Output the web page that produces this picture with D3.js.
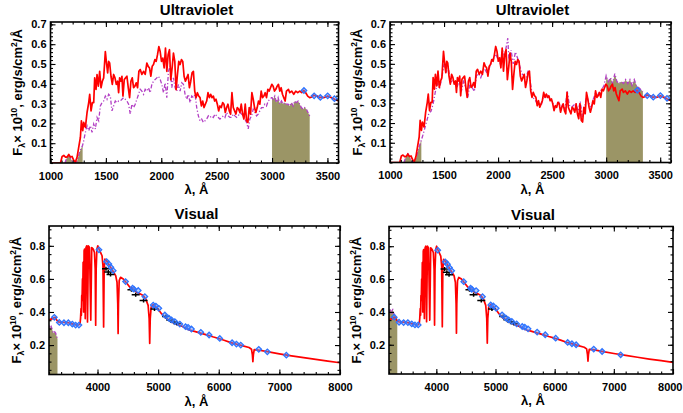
<!DOCTYPE html>
<html><head><meta charset="utf-8">
<script src="https://cdn.jsdelivr.net/npm/d3@7"></script>
<style>
body{margin:0;background:#fff;}
svg{display:block;font-family:"Liberation Sans",Arial,Helvetica,sans-serif;font-weight:bold;}
</style></head><body>
<svg id="c" width="683" height="413"></svg>
<script>
// ---------- DATA ----------
// Observed UV spectrum (red)
const uvWave = [1000,1090,1105,1120,1135,1150,1165,1180,1195,1210,1225,1240,1255,1270,1279,1291,1300,1315,1330,1345,1354,1366,1378,1390,1399,1411,1420,1432,1444,1456,1468,1480,1495,1504,1516,1525,1534,1546,1558,1570,1582,1594,1606,1615,1624,1636,1645,1654,1666,1678,1690,1702,1714,1726,1738,1750,1762,1774,1786,1798,1810,1825,1840,1855,1870,1882,1894,1906,1918,1930,1942,1954,1966,1978,1990,2002,2014,2026,2038,2050,2062,2074,2086,2098,2110,2122,2134,2146,2158,2170,2182,2194,2206,2218,2230,2242,2254,2266,2278,2290,2302,2314,2326,2338,2350,2362,2374,2386,2398,2410,2422,2434,2446,2458,2470,2482,2494,2506,2518,2530,2542,2554,2566,2578,2590,2602,2614,2626,2638,2650,2662,2674,2686,2698,2710,2722,2734,2746,2758,2770,2782,2794,2806,2818,2830,2842,2854,2866,2878,2890,2902,2914,2926,2938,2950,2962,2974,2986,2998,3010,3022,3034,3046,3058,3070,3082,3094,3106,3118,3130,3148,3160,3178,3196,3214,3232,3250,3268,3286,3304,3322,3340,3358,3376,3394,3412,3430,3448,3466,3484,3502,3520,3538,3556,3574,3600];
const uvFlux = [0,0,0.033,0.038,0.030,0.030,0.043,0.030,0.033,0.013,0.005,0.030,0.080,0.130,0.213,0.163,0.205,0.180,0.255,0.305,0.347,0.263,0.305,0.305,0.430,0.372,0.447,0.388,0.463,0.380,0.413,0.430,0.563,0.513,0.455,0.513,0.505,0.438,0.397,0.447,0.430,0.397,0.413,0.355,0.430,0.413,0.438,0.338,0.422,0.430,0.438,0.380,0.330,0.413,0.430,0.380,0.388,0.405,0.380,0.463,0.472,0.447,0.463,0.447,0.505,0.488,0.480,0.438,0.488,0.497,0.522,0.513,0.547,0.588,0.563,0.513,0.530,0.480,0.580,0.463,0.547,0.572,0.420,0.480,0.555,0.513,0.370,0.447,0.513,0.497,0.522,0.513,0.438,0.413,0.430,0.447,0.380,0.413,0.455,0.463,0.363,0.330,0.355,0.338,0.330,0.288,0.313,0.280,0.297,0.313,0.355,0.330,0.347,0.330,0.338,0.313,0.322,0.297,0.263,0.288,0.280,0.305,0.297,0.255,0.280,0.297,0.263,0.247,0.355,0.280,0.263,0.247,0.280,0.272,0.255,0.297,0.247,0.222,0.297,0.213,0.205,0.280,0.247,0.355,0.322,0.280,0.255,0.280,0.313,0.297,0.363,0.330,0.338,0.355,0.330,0.372,0.363,0.380,0.397,0.388,0.363,0.372,0.388,0.397,0.363,0.380,0.347,0.330,0.313,0.363,0.372,0.355,0.363,0.347,0.363,0.355,0.363,0.355,0.367,0.355,0.338,0.330,0.333,0.343,0.338,0.338,0.330,0.333,0.330,0.333,0.338,0.333,0.330,0.325,0.318,0.315];

// Model A (left column, purple dash-dot)
const modelAWave = [1130,1150,1165,1180,1195,1210,1240,1255,1270,1290,1300,1315,1330,1345,1360,1375,1390,1405,1420,1435,1450,1465,1480,1495,1510,1525,1540,1555,1570,1585,1600,1615,1630,1645,1660,1675,1690,1705,1720,1735,1750,1765,1780,1795,1810,1825,1840,1855,1870,1885,1900,1915,1930,1945,1960,1975,1990,2005,2020,2035,2050,2065,2080,2095,2110,2125,2140,2155,2170,2185,2200,2215,2230,2245,2260,2275,2290,2305,2320,2335,2350,2365,2380,2395,2410,2425,2440,2455,2470,2485,2500,2515,2530,2545,2560,2575,2590,2605,2620,2635,2650,2665,2680,2695,2710,2725,2740,2755,2770,2785,2800,2815,2830,2845,2860,2875,2890,2905,2920,2935,2950,2965,2980,2995,3000,3010,3025,3040,3055,3070,3085,3100,3115,3130,3145,3160,3175,3190,3205,3220,3235,3250,3265,3280,3295,3310,3325,3340];
const modelAFlux = [0,0.030,0.040,0.025,0.010,0,0.010,0.040,0.065,0.090,0.113,0.155,0.188,0.163,0.188,0.155,0.197,0.172,0.230,0.213,0.288,0.305,0.313,0.338,0.322,0.347,0.338,0.263,0.288,0.313,0.305,0.313,0.313,0.322,0.330,0.322,0.313,0.297,0.247,0.297,0.280,0.297,0.322,0.347,0.372,0.363,0.347,0.372,0.363,0.380,0.355,0.397,0.413,0.422,0.430,0.438,0.422,0.397,0.355,0.405,0.330,0.463,0.490,0.380,0.430,0.380,0.363,0.397,0.363,0.405,0.397,0.347,0.322,0.347,0.305,0.338,0.330,0.347,0.280,0.238,0.213,0.222,0.205,0.213,0.222,0.238,0.230,0.238,0.230,0.247,0.238,0.230,0.222,0.230,0.238,0.230,0.255,0.238,0.230,0.230,0.247,0.238,0.230,0.238,0.255,0.247,0.238,0.222,0.205,0.172,0.222,0.238,0.272,0.255,0.238,0.247,0.263,0.280,0.280,0.297,0.288,0.313,0.322,0.330,0.330,0.322,0.338,0.305,0.330,0.297,0.313,0.297,0.305,0.297,0.297,0.288,0.305,0.288,0.313,0.305,0.313,0.297,0.280,0.272,0.280,0.272,0.255,0.238];

// Model B (right column, purple dash-dot)
const modelBWave = [1130,1150,1165,1180,1195,1210,1240,1255,1270,1290,1300,1320,1340,1360,1380,1400,1420,1440,1460,1480,1500,1520,1540,1560,1580,1600,1620,1640,1660,1680,1700,1720,1740,1760,1780,1800,1820,1840,1860,1880,1900,1920,1940,1960,1980,2000,2020,2040,2060,2080,2090,2100,2120,2140,2160,2180,2200,2220,2240,2260,2280,2300,2320,2340,2360,2380,2400,2420,2440,2460,2480,2500,2520,2540,2560,2580,2600,2620,2640,2660,2680,2700,2720,2740,2760,2780,2800,2820,2840,2860,2880,2900,2920,2940,2960,2980,3000,3020,3040,3060,3080,3100,3120,3140,3160,3180,3200,3220,3240,3260,3280,3300,3320,3340];
const modelBFlux = [0,0.035,0.045,0.030,0.010,0,0.020,0.050,0.080,0.115,0.130,0.170,0.210,0.250,0.260,0.300,0.360,0.400,0.380,0.430,0.500,0.460,0.480,0.400,0.420,0.400,0.380,0.420,0.360,0.410,0.380,0.330,0.400,0.380,0.360,0.440,0.450,0.430,0.460,0.470,0.450,0.480,0.510,0.530,0.550,0.520,0.500,0.570,0.540,0.600,0.630,0.520,0.570,0.500,0.560,0.530,0.490,0.450,0.440,0.430,0.470,0.400,0.330,0.320,0.300,0.300,0.290,0.340,0.330,0.340,0.320,0.310,0.280,0.290,0.310,0.270,0.300,0.270,0.360,0.290,0.280,0.290,0.300,0.260,0.310,0.230,0.280,0.340,0.300,0.280,0.320,0.350,0.340,0.360,0.370,0.390,0.440,0.410,0.430,0.400,0.450,0.410,0.400,0.410,0.400,0.420,0.400,0.420,0.390,0.420,0.390,0.380,0.370,0.360];

// Model ranges shown as filled areas
const fillWindows = [[1130,1290],[3000,3340]];

// UV photometric points (blue diamonds)
const uvPtsWave = [3288,3380,3436,3502,3563];
const uvPtsFlux = [0.366,0.339,0.331,0.339,0.325];

// Visual model spectrum (red)
const visWave = [3200,3216,3260,3299,3330,3354,3400,3436,3480,3519,3560,3601,3650,3684,3700,3712,3720,3728,3734,3740,3745,3752,3757,3763,3771,3779,3786,3798,3810,3822,3835,3850,3868,3889,3905,3930,3950,3962,3970,3978,3990,4005,4025,4050,4075,4090,4101,4110,4122,4150,4200,4250,4300,4322,4334,4340,4346,4358,4380,4425,4480,4534,4589,4644,4700,4754,4800,4835,4852,4861,4870,4885,4920,4946,5001,5056,5111,5166,5221,5303,5386,5468,5523,5600,5700,5800,5900,6000,6100,6200,6300,6400,6500,6540,6555,6563,6571,6585,6650,6800,7000,7200,7400,7600,7800,8000];
const visFlux = [0.350,0.355,0.360,0.368,0.350,0.340,0.338,0.338,0.336,0.335,0.330,0.327,0.322,0.320,0.325,0.330,0.360,0.420,0.380,0.500,0.470,0.600,0.520,0.700,0.400,0.770,0.780,0.360,0.790,0.800,0.340,0.800,0.790,0.350,0.790,0.780,0.760,0.660,0.320,0.660,0.780,0.800,0.780,0.760,0.740,0.680,0.310,0.660,0.720,0.710,0.680,0.650,0.620,0.580,0.450,0.270,0.450,0.590,0.610,0.600,0.575,0.550,0.540,0.520,0.510,0.500,0.475,0.440,0.360,0.210,0.360,0.430,0.445,0.437,0.417,0.390,0.368,0.355,0.340,0.327,0.315,0.300,0.290,0.283,0.272,0.262,0.250,0.240,0.228,0.215,0.205,0.195,0.185,0.175,0.140,0.100,0.140,0.172,0.170,0.160,0.147,0.135,0.124,0.113,0.103,0.093];

// Visual photometric points (blue diamonds)
const visPtsWave = [3288,3370,3447,3519,3585,3639,3694,4024,4150,4188,4221,4260,4463,4578,4600,4672,4781,4919,4963,5012,5111,5177,5221,5276,5358,5452,5495,5550,5704,5841,6017,6220,6292,6363,6660,6802,7115];
const visPtsFlux = [0.368,0.337,0.335,0.335,0.327,0.321,0.321,0.776,0.705,0.690,0.670,0.650,0.584,0.544,0.538,0.530,0.493,0.442,0.436,0.422,0.382,0.362,0.352,0.342,0.327,0.311,0.307,0.297,0.277,0.261,0.240,0.214,0.206,0.200,0.174,0.159,0.139];

// Secondary measurements (black marks)
const blackWave = [4140,4178,4215,4560,4630,4760,4940,5130,5200,5260,5310];
const blackFlux = [0.662,0.642,0.626,0.535,0.505,0.470,0.418,0.372,0.352,0.340,0.330];

// Tick labels
const uvXTicks = [1000,1500,2000,2500,3000,3500];
const uvYTicks = [0.1,0.2,0.3,0.4,0.5,0.6,0.7];
const visXTicks = [4000,5000,6000,7000,8000];
const visYTicks = [0.2,0.4,0.6,0.8];

// ---------- DRAW ----------
const W = 683;
const svg = d3.select("#c");
const RED = "#ff0000", PURPLE = "#b23fc4", OLIVE = "#9b9566", BLUE = "#2f74ff";

const cfg = {
  uv:  {xd:[1000,3600], yd:[0,0.712], xt:uvXTicks, yt:uvYTicks, xm:100, ym:0.02, fmt:d3.format(".1f")},
  vis: {xd:[3200,8000], yd:[0.022,0.92], xt:visXTicks, yt:visYTicks, xm:200, ym:0.05, fmt:d3.format(".1f")}
};

const panels = [
  {kind:"uv",  model:"A", title:"Ultraviolet", l:50.5, r:338.5, t:22,   b:163},
  {kind:"uv",  model:"B", title:"Ultraviolet", l:390,  r:671,   t:22,   b:162.5},
  {kind:"vis", model:"A", title:"Visual",      l:49,   r:340,   t:226,  b:374.5},
  {kind:"vis", model:"B", title:"Visual",      l:389,  r:673,   t:226.5,b:374}
];

const zip = (w,f) => w.map((v,i)=>({w:v,f:f[i]}));
const uvData = zip(uvWave, uvFlux);
const visData = zip(visWave, visFlux);
const models = {A: zip(modelAWave, modelAFlux), B: zip(modelBWave, modelBFlux)};
const uvPts = zip(uvPtsWave, uvPtsFlux);
const visPts = zip(visPtsWave, visPtsFlux);
const blackPts = zip(blackWave, blackFlux);

panels.forEach((p, idx) => {
  const c = cfg[p.kind];
  const x = d3.scaleLinear().domain(c.xd).range([p.l, p.r]);
  const y = d3.scaleLinear().domain(c.yd).range([p.b, p.t]);
  const g = svg.append("g");
  const cid = "clip" + idx;
  svg.append("clipPath").attr("id", cid).append("rect")
    .attr("x", p.l).attr("y", p.t).attr("width", p.r - p.l).attr("height", p.b - p.t);
  const plot = g.append("g").attr("clip-path", `url(#${cid})`);

  const model = models[p.model];
  const inWin = d => fillWindows.some(wn => d.w >= wn[0] && d.w <= wn[1]);
  plot.append("path").datum(model)
    .attr("d", d3.area().defined(inWin).x(d=>x(d.w)).y0(p.b).y1(d=>y(d.f)))
    .attr("fill", OLIVE).attr("stroke", "none");
  plot.append("path").datum(model)
    .attr("d", d3.line().x(d=>x(d.w)).y(d=>y(d.f)))
    .attr("fill","none").attr("stroke", PURPLE).attr("stroke-width", 1.3)
    .attr("stroke-dasharray", "4,2,1.2,2");
  const spec = p.kind === "uv" ? uvData : visData;
  plot.append("path").datum(spec)
    .attr("d", d3.line().x(d=>x(d.w)).y(d=>y(d.f)))
    .attr("fill","none").attr("stroke", RED).attr("stroke-width", 1.7)
    .attr("stroke-linejoin","round");
  if (p.kind === "vis") {
    plot.selectAll("path.bk").data(blackPts).enter().append("path")
      .attr("d", d => `M${x(d.w)-4},${y(d.f)}h8M${x(d.w)},${y(d.f)-2}v4`)
      .attr("stroke","#000").attr("stroke-width",1.5).attr("fill","none");
  }
  const pts = p.kind === "uv" ? uvPts : visPts;
  const sym = d3.symbol().type(d3.symbolSquare).size(15);
  plot.selectAll("path.pt").data(pts).enter().append("path")
    .attr("transform", d => `translate(${x(d.w)},${y(d.f)}) rotate(45)`)
    .attr("d", sym)
    .attr("fill", "#5b95ff").attr("fill-opacity", 0.45)
    .attr("stroke", BLUE).attr("stroke-width", 1.3);

  // axes (IDL style box with inward ticks)
  const xMinor = d3.range(c.xd[0], c.xd[1] + 1e-6, c.xm);
  const yStart = Math.ceil(c.yd[0] / c.ym - 1e-9) * c.ym;
  const yMinor = d3.range(yStart, c.yd[1] + 1e-9, c.ym);
  const style = sel => { sel.select(".domain").remove(); sel.selectAll("line").attr("stroke","#000").attr("stroke-width",1.1); };
  const axG = g.append("g");

  axG.append("g").attr("transform",`translate(0,${p.b})`)
    .call(d3.axisBottom(x).tickValues(xMinor).tickSize(-2.5).tickFormat("")).call(style);
  const xl = axG.append("g").attr("transform",`translate(0,${p.b})`)
    .call(d3.axisBottom(x).tickValues(c.xt).tickSize(-5).tickPadding(9).tickFormat(d3.format("d"))).call(style);
  xl.selectAll("text").attr("font-size", 11).attr("fill","#000").attr("font-weight","bold")
    .each(function(d){ // keep labels inside the page
      const px = x(d);
      if (px + 12.5 > W) d3.select(this).attr("text-anchor","end").attr("x", W - 1 - px);
    });
  axG.append("g").attr("transform",`translate(0,${p.t})`)
    .call(d3.axisTop(x).tickValues(xMinor).tickSize(-2.5).tickFormat("")).call(style);
  axG.append("g").attr("transform",`translate(0,${p.t})`)
    .call(d3.axisTop(x).tickValues(c.xt).tickSize(-5).tickFormat("")).call(style);

  axG.append("g").attr("transform",`translate(${p.l},0)`)
    .call(d3.axisLeft(y).tickValues(yMinor).tickSize(-2.5).tickFormat("")).call(style);
  axG.append("g").attr("transform",`translate(${p.l},0)`)
    .call(d3.axisLeft(y).tickValues(c.yt).tickSize(-5).tickPadding(4).tickFormat(c.fmt)).call(style)
    .selectAll("text").attr("font-size", 11).attr("fill","#000").attr("font-weight","bold");
  axG.append("g").attr("transform",`translate(${p.r},0)`)
    .call(d3.axisRight(y).tickValues(yMinor).tickSize(-2.5).tickFormat("")).call(style);
  axG.append("g").attr("transform",`translate(${p.r},0)`)
    .call(d3.axisRight(y).tickValues(c.yt).tickSize(-5).tickFormat("")).call(style);

  g.append("rect").attr("x", p.l).attr("y", p.t).attr("width", p.r - p.l).attr("height", p.b - p.t)
    .attr("fill","none").attr("stroke","#000").attr("stroke-width",1.6);

  const cx = (p.l + p.r) / 2;
  g.append("text").attr("x", cx + 2).attr("y", p.t - 7).attr("text-anchor","middle")
    .attr("font-size", 15).attr("font-weight","bold").text(p.title);
  g.append("text").attr("x", cx + 2).attr("y", p.b + 31).attr("text-anchor","middle")
    .attr("font-size", 13).attr("font-weight","bold").text("λ, Å");
  const t = g.append("text").attr("transform",`translate(${p.l - 28.5},${(p.t + p.b)/2}) rotate(-90)`)
    .attr("text-anchor","middle").attr("font-size", 13).attr("font-weight","bold");
  t.append("tspan").text("F");
  t.append("tspan").attr("font-size", 9).attr("dy", 3).text("λ");
  t.append("tspan").attr("dy", -3).text("× 10");
  t.append("tspan").attr("font-size", 8.5).attr("dy", -5).text("10");
  t.append("tspan").attr("dy", 5).text(", erg/s/cm");
  t.append("tspan").attr("font-size", 8.5).attr("dy", -5).text("2");
  t.append("tspan").attr("dy", 5).text("/Å");
});
</script>
</body></html>
